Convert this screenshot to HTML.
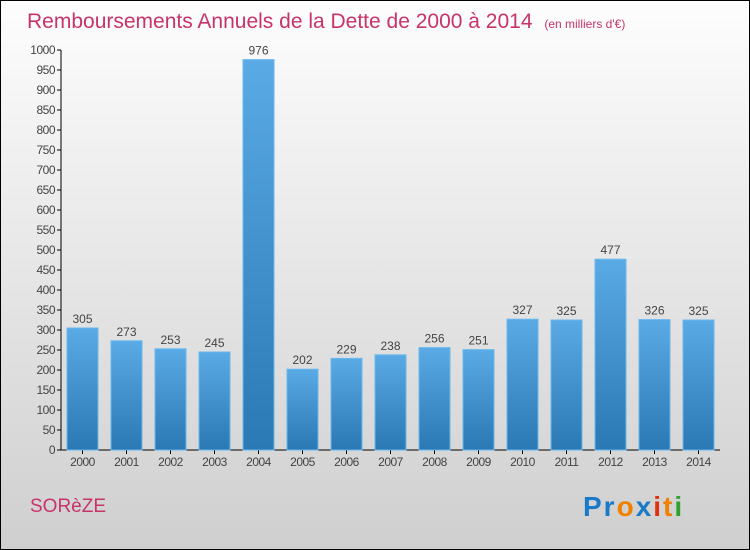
<!DOCTYPE html>
<html><head><meta charset="utf-8"><style>
body{margin:0}
#c{width:750px;height:550px;position:relative;box-sizing:border-box;border:1px solid #000;background:linear-gradient(#fdfdfd,#cfcfcf);font-family:"Liberation Sans",sans-serif;overflow:hidden}
</style></head><body>
<div id="c">
<svg id="s" width="750" height="550" style="position:absolute;left:-1px;top:-1px">
<defs><linearGradient id="g" x1="0" y1="0" x2="0" y2="1"><stop offset="0" stop-color="#5aaae6"/><stop offset="1" stop-color="#2a78b4"/></linearGradient></defs>
<text x="27" y="28" font-size="21" fill="#c8336a">Remboursements Annuels de la Dette de 2000 à 2014 <tspan font-size="12" dx="6">(en milliers d'€)</tspan></text>
<g id="ax"></g><g id="bars"></g>
<text x="30" y="512" font-size="19" fill="#c8336a">SORèZE</text>
<text x="583" y="516" font-size="28" font-weight="bold" letter-spacing="2"><tspan fill="#1a7ac8">Pr</tspan><tspan fill="#f08000">o</tspan><tspan fill="#1a7ac8">x</tspan><tspan fill="#e03010">i</tspan><tspan fill="#f08000">t</tspan><tspan fill="#30a030">i</tspan></text>
</svg></div>
<script>
const years=["2000","2001","2002","2003","2004","2005","2006","2007","2008","2009","2010","2011","2012","2013","2014"];
const values=[305,273,253,245,976,202,229,238,256,251,327,325,477,326,325];
const yTicks=[0,50,100,150,200,250,300,350,400,450,500,550,600,650,700,750,800,850,900,950,1000];
const NS="http://www.w3.org/2000/svg";
const y=v=>450-v*0.4, x=i=>67+i*44;
function mk(t,a,p){const e=document.createElementNS(NS,t);for(const k in a)e.setAttribute(k,a[k]);p.appendChild(e);return e;}
const ax=document.getElementById('ax'),bars=document.getElementById('bars');
let l=mk('line',{x1:61,y1:50,x2:61,y2:450,stroke:'#000'},ax);


l=mk('line',{x1:61,y1:450,x2:720,y2:450,stroke:'#000'},ax);


yTicks.forEach(v=>{mk('line',{x1:57,y1:y(v),x2:61,y2:y(v),stroke:'#000'},ax);
const t=mk('text',{x:55,y:y(v)+4,'font-size':12,fill:'#444','text-anchor':'end','letter-spacing':'-0.5'},ax);t.textContent=v;

});
years.forEach((yr,i)=>{const v=values[i];
const r=mk('rect',{x:x(i),y:y(v),width:31,height:450-y(v),fill:'url(#g)',stroke:'#6ab8ee','stroke-width':1},bars);


const t=mk('text',{x:x(i)+15.5,y:y(v)-5,'font-size':12,fill:'#444','text-anchor':'middle'},bars);t.textContent=v;


mk('line',{x1:x(i)+15.5,y1:450,x2:x(i)+15.5,y2:454,stroke:'#000'},ax);
const xt=mk('text',{x:x(i)+15.5,y:466,'font-size':12,fill:'#444','text-anchor':'middle','letter-spacing':'-0.5'},ax);xt.textContent=yr;

});
</script>
</body></html>
